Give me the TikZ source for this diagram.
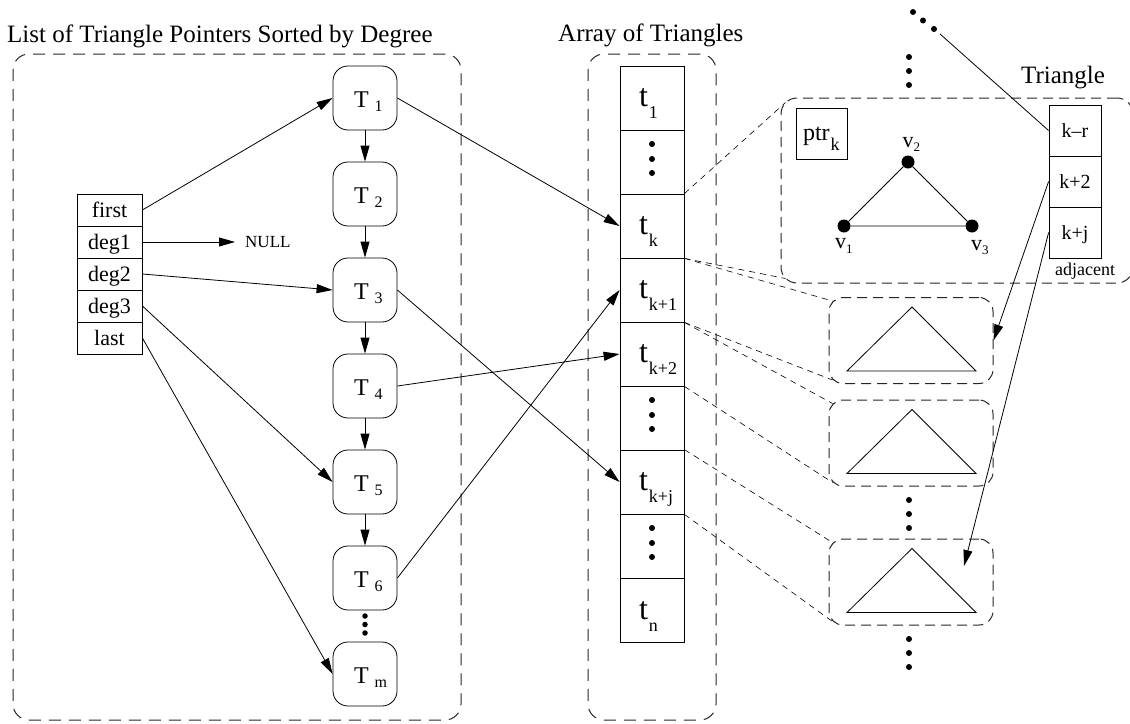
\documentclass[tikz,border=0pt]{standalone}
\usepackage{fontspec}
\setmainfont{Liberation Serif}
\usetikzlibrary{arrows.meta,calc}
\newcommand{\fs}[1]{\fontsize{#1}{#1}\selectfont}
\newcommand{\Tlab}[1]{\makebox[0pt][l]{\hspace{-11pt}\fs{24}T\kern6pt\raisebox{-4pt}{\fs{16}#1}}}
\newcommand{\tlab}[1]{\makebox[0pt][l]{\hspace{-13pt}\fs{32}t\kern1pt\raisebox{-12pt}{\fs{18}#1}}}
\begin{document}
\begin{tikzpicture}[x=1pt,y=-1pt,
  dbox/.style={draw=black!85, line width=1pt, dash pattern=on 12pt off 8pt, rounded corners=16pt, inner sep=0pt},
  sbox/.style={draw=black!85, line width=1pt, dash pattern=on 10pt off 6pt, rounded corners=14pt, inner sep=0pt, minimum width=164pt, minimum height=86pt},
  cell/.style={draw, line width=0.8pt, minimum width=64pt, minimum height=64pt, inner sep=0pt, text height=16pt, text depth=0pt},
  tnode/.style={draw, line width=0.8pt, rounded corners=15pt, minimum width=64pt, minimum height=64pt, inner sep=0pt, text height=18pt, text depth=0pt},
  lcell/.style={draw, line width=0.8pt, minimum width=65pt, minimum height=32pt, inner sep=0pt, font=\fs{22}, text height=14.6pt, text depth=0pt},
  acell/.style={draw, line width=0.8pt, minimum width=52pt, minimum height=51pt, inner sep=0pt, font=\fs{20}, text height=14pt, text depth=0pt},
  arr/.style={-{Triangle[length=16pt,width=9pt]}, line width=0.8pt},
  proj/.style={line width=0.6pt, dash pattern=on 6pt off 5pt},
  dot/.style={circle, fill, inner sep=0pt, minimum size=6pt},
  vert/.style={circle, fill, inner sep=0pt, minimum size=13pt},
  lbl/.style={anchor=base west, inner sep=0pt}
]
\useasboundingbox (0,0) rectangle (1130,723);

% titles
\node[lbl, font=\fs{25}] (title1) at (7,42) {List of Triangle Pointers Sorted by Degree};
\node[lbl, font=\fs{25}] (title2) at (558,41) {Array of Triangles};
\node[lbl, font=\fs{25}] (title3) at (1021,83) {Triangle};

% dashed containers
\node[dbox, minimum width=448pt, minimum height=666pt] (L) at (237,387) {};
\node[dbox, minimum width=128pt, minimum height=666pt] (A) at (652,387) {};
\node[dbox, dash pattern=on 10pt off 6pt, minimum width=352pt, minimum height=185pt] (B) at (957,190.5) {};
\node[sbox] (b1) at (911,340.5) {};
\node[sbox] (b2) at (911,443) {};
\node[sbox] (b3) at (911,582) {};

% list header
\node[lcell] (first) at (109.5,210) {first};
\node[lcell] (deg1) at (109.5,242) {deg1};
\node[lcell] (deg2) at (109.5,274) {deg2};
\node[lcell] (deg3) at (109.5,306) {deg3};
\node[lcell] (last) at (109.5,338) {last};
\node[anchor=west, inner xsep=10pt, inner ysep=0pt, font=\fs{17}] (null) at (235,242) {NULL};

% T nodes
\node[tnode] (T1) at (365,98) {\Tlab{1}};
\node[tnode] (T2) at (365,194) {\Tlab{2}};
\node[tnode] (T3) at (365,290) {\Tlab{3}};
\node[tnode] (T4) at (365,386) {\Tlab{4}};
\node[tnode] (T5) at (365,482) {\Tlab{5}};
\node[tnode] (T6) at (365,578) {\Tlab{6}};
\node[tnode] (Tm) at (365,674) {\Tlab{m}};
\node[dot, minimum size=5.5pt] (td1) at (365,616) {};
\node[dot, minimum size=5.5pt] (td2) at (365,624.5) {};
\node[dot, minimum size=5.5pt] (td3) at (365,633) {};

% array cells
\node[cell] (t1) at (652,98) {\tlab{1}};
\node[cell] (d1) at (652,162) {};
\node[cell] (tk) at (652,226) {\tlab{k}};
\node[cell] (tkp1) at (652,290) {\tlab{k+1}};
\node[cell] (tkp2) at (652,354) {\tlab{k+2}};
\node[cell] (d2) at (652,418) {};
\node[cell] (tkj) at (652,482) {\tlab{k+j}};
\node[cell] (d3) at (652,546) {};
\node[cell, text height=19pt] (tn) at (652,610) {\tlab{n}};
\foreach \c in {d1,d2,d3}{
  \node[dot] at ($(\c)+(0,-18)$) {};
  \node[dot] at ($(\c)+(0,-3)$) {};
  \node[dot] at ($(\c)+(0,11)$) {};
}

% triangle detail
\node[draw, line width=0.8pt, minimum width=51pt, minimum height=51pt, inner sep=0pt, text height=13pt, text depth=0pt] (ptr) at (821.5,133.5)
  {\makebox[0pt][l]{\hspace{-18.5pt}\fs{24}ptr\kern1pt\raisebox{-10pt}{\fs{18}k}}};
\node[vert] (v1) at (844,226) {};
\node[vert] (v2) at (908,162) {};
\node[vert] (v3) at (972,226) {};
\draw[line width=0.8pt] (v1) -- (v2) -- (v3) -- (v1);
\node[lbl, font=\fs{22}] (lv2) at (902.5,147) {v\raisebox{-4pt}{\fs{13}2}};
\node[lbl, font=\fs{22}] (lv1) at (835,248) {v\raisebox{-5pt}{\fs{13}1}};
\node[lbl, font=\fs{22}] (lv3) at (971,250) {v\raisebox{-4pt}{\fs{13}3}};

\node[acell] (kr) at (1075,130.5) {k--r};
\node[acell] (kp2) at (1075,181.5) {k+2};
\node[acell] (kj) at (1075,232.5) {k+j};
\node[anchor=base, inner sep=0pt, font=\fs{18}] (adj) at (1085,275) {adjacent};

% small triangles
\foreach \b in {b1,b2,b3}{
  \draw[line width=0.8pt] ($(\b)+(-64,30.5)$) -- ($(\b)+(1,-33.5)$) -- ($(\b)+(65,30.5)$) -- cycle;
}

% dots on right
\node[dot] (rd1) at (909,57) {};
\node[dot] (rd2) at (909,71) {};
\node[dot] (rd3) at (909,85) {};
\node[dot] (gd1) at (913,12) {};
\node[dot] (gd2) at (923,20.5) {};
\node[dot] (gd3) at (934,29) {};
\node[dot] (md1) at (909,500) {};
\node[dot] (md2) at (909,514) {};
\node[dot] (md3) at (909,528) {};
\node[dot] (bd1) at (909,639) {};
\node[dot] (bd2) at (909,653) {};
\node[dot] (bd3) at (909,667) {};
\coordinate (c0) at (940,34);
\coordinate (c3) at (964,566);

% connectors
\draw[arr] (first.east) -- (T1.west);
\draw[arr] (deg1.east) -- (null.west);
\draw[arr] (deg2.east) -- (T3.west);
\draw[arr] (deg3.east) -- (T5.west);
\draw[arr] (last.east) -- (Tm.west);
\draw[arr] (T1.south) -- (T2.north);
\draw[arr] (T2.south) -- (T3.north);
\draw[arr] (T3.south) -- (T4.north);
\draw[arr] (T4.south) -- (T5.north);
\draw[arr] (T5.south) -- (T6.north);
\draw[arr] (T1.east) -- (tk.west);
\draw[arr] (T3.east) -- (tkj.west);
\draw[arr] (T4.east) -- (tkp2.west);
\draw[arr] (T6.east) -- (tkp1.west);
\draw[arr] (kp2.west) -- (b1.east);
\draw[arr] (kj.west) -- (c3);
\draw[line width=0.8pt] (c0) -- (kr.west);

% projection lines
\draw[proj] (tk.north east) -- ($(B.north west)+(5,5)$);
\draw[proj] (tk.south east) -- ($(B.south west)+(5,-5)$);
\draw[proj] (tk.south east) -- ($(b1.north west)+(4,4)$);
\draw[proj] (tkp1.south east) -- ($(b1.south west)+(4,-4)$);
\draw[proj] (tkp1.south east) -- ($(b2.north west)+(4,4)$);
\draw[proj] (tkp2.south east) -- ($(b2.south west)+(4,-4)$);
\draw[proj] (tkj.north east) -- ($(b3.north west)+(4,4)$);
\draw[proj] (tkj.south east) -- ($(b3.south west)+(4,-4)$);
\end{tikzpicture}
\end{document}
